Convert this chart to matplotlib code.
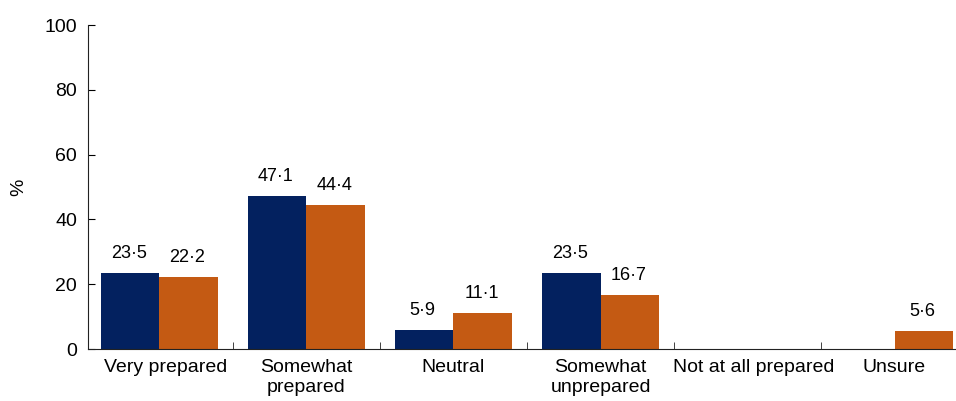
import numpy as np
import matplotlib
matplotlib.use("Agg")
import matplotlib.pyplot as plt
import matplotlib.transforms as mtransforms

plt.rcParams['font.family'] = ['Liberation Sans', 'DejaVu Sans']

categories = ["Very prepared", "Somewhat\nprepared", "Neutral", "Somewhat\nunprepared",
              "Not at all prepared", "Unsure"]
navy_vals = [23.5, 47.1, 5.9, 23.5, 0, 0]
orange_vals = [22.2, 44.4, 11.1, 16.7, 0, 5.6]

navy = "#03215F"
orange = "#C45A13"

fig = plt.figure(figsize=(9.56, 4.01), dpi=100)
ax = fig.add_axes([88/956, 52/401, 1 - 88/956, 324/401])

x = np.arange(len(categories))
w = 0.4
b1 = ax.bar(x - w/2, navy_vals, w, color=navy)
b2 = ax.bar(x + w/2, orange_vals, w, color=orange)

for bars, vals in ((b1, navy_vals), (b2, orange_vals)):
    for r, v in zip(bars, vals):
        if v > 0:
            ax.annotate(f"{v:.1f}".replace(".", "·"),
                        (r.get_x() + r.get_width()/2, v),
                        xytext=(-1, 8), textcoords="offset points",
                        ha="center", va="bottom", fontsize=13)

ax.set_xlim(-0.486, 5.418)
ax.set_ylim(0, 100)
ax.set_yticks(range(0, 101, 20))
ax.set_xticks(x)
ax.set_xticklabels(categories, fontsize=14, linespacing=1.25)
ax.set_xticks(np.arange(0.5, 5, 1), minor=True)
ax.tick_params(axis="x", which="major", length=0, pad=7)
ax.tick_params(axis="x", which="minor", direction="in", length=5, color="#222222")
ax.tick_params(axis="y", direction="in", length=5, labelsize=14, pad=8)
ax.set_ylabel("%", fontsize=14)
ax.yaxis.set_label_coords(-0.07, 0.5)

# the wide single-line labels sit a little right of centre in the original
shift = mtransforms.ScaledTranslation(6/100, 0, fig.dpi_scale_trans)
for i, lab in enumerate(ax.get_xticklabels()):
    if i in (0, 4):
        lab.set_transform(lab.get_transform() + shift)

for s in ("top", "right"):
    ax.spines[s].set_visible(False)
for s in ("left", "bottom"):
    ax.spines[s].set_color("#222222")

fig.savefig("out.png", dpi=100)
